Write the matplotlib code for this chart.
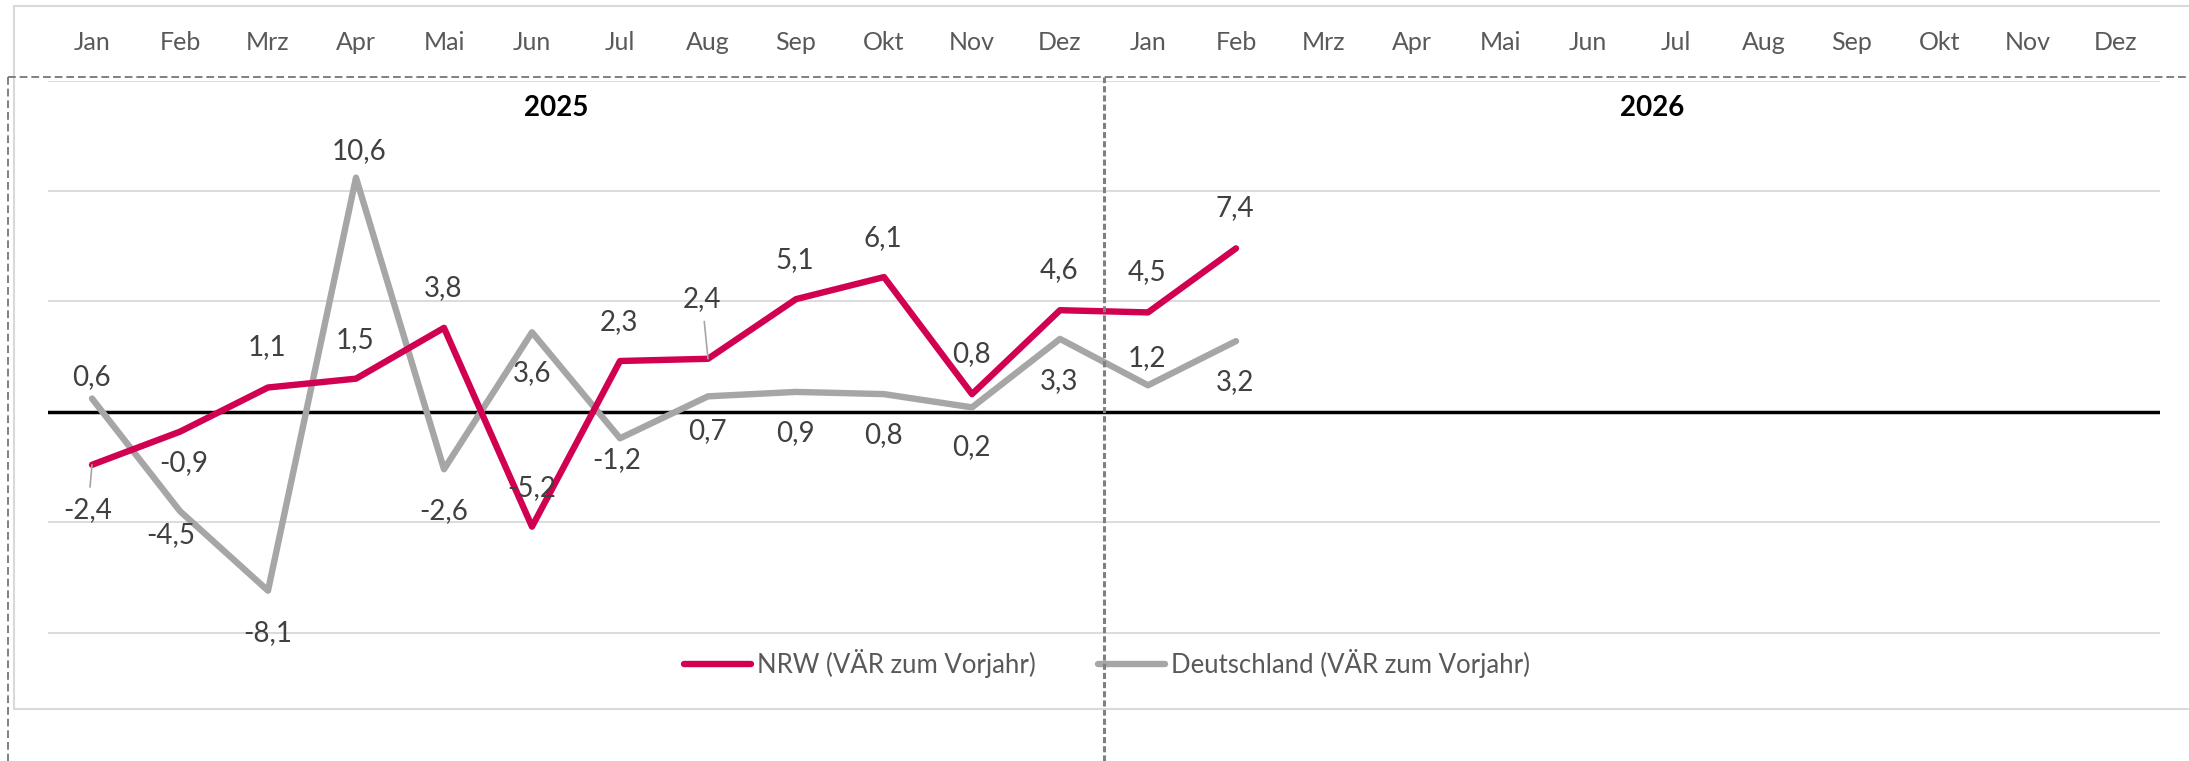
import matplotlib
matplotlib.use("Agg")
import matplotlib.pyplot as plt
from matplotlib.lines import Line2D

plt.rcParams["font.family"] = ["Lato", "DejaVu Sans"]

months = ["Jan", "Feb", "Mrz", "Apr", "Mai", "Jun", "Jul", "Aug", "Sep", "Okt", "Nov", "Dez"] * 2
years = ["2025", "2026"]
nrw = [-2.4, -0.9, 1.1, 1.5, 3.8, -5.2, 2.3, 2.4, 5.1, 6.1, 0.8, 4.6, 4.5, 7.4]
de = [0.6, -4.5, -8.1, 10.6, -2.6, 3.6, -1.2, 0.7, 0.9, 0.8, 0.2, 3.3, 1.2, 3.2]
series_names = ["NRW (VÄR zum Vorjahr)", "Deutschland (VÄR zum Vorjahr)"]

# label offsets in pixels (dx, dy), Excel-like placement
nrw_off = [(-4, -45), (4, -31), (-1, 40), (-1, 39), (-1, 40), (0, 39), (-1, 39),
           (-6, 60), (-1, 39), (-1, 39), (-1, 40), (-1, 40), (-1, 40), (-1, 40)]
de_off = [(-1, 21), (-9, -24), (0, -42), (3, 27), (0, -42), (0, -41), (-3, -22),
          (-1, -35), (-1, -41), (-1, -41), (-1, -40), (-1, -42), (-1, 27), (-1, -41)]
nrw_leader = [0, 7]

RED = "#D20050"
GREY = "#A6A6A6"
W, H = 2189, 761


def fx(px):
    return px / W


def fy(py):
    return 1 - py / H


fig = plt.figure(figsize=(W / 100, H / 100), dpi=100)
top, bot = 80.5, 721
ax = fig.add_axes([fx(48), fy(bot), fx(2160) - fx(48), (bot - top) / H])
ax.set_xlim(-0.5, 23.5)
ax.set_ylim(-14, 15)

for g in [-10, -5, 5, 10, 15]:
    ax.axhline(g, color="#D9D9D9", lw=1.3, zorder=1)
ax.axhline(0, color="black", lw=2.5, zorder=2)

x = list(range(len(nrw)))
l1, = ax.plot(x, nrw, color=RED, lw=4.6, solid_capstyle="round", solid_joinstyle="round", zorder=4)
l2, = ax.plot(x, de, color=GREY, lw=4.6, solid_capstyle="round", solid_joinstyle="round", zorder=3)


def fmt(v):
    return f"{v:.1f}".replace(".", ",")


for i, v in enumerate(nrw):
    arrow = None
    if i in nrw_leader:
        arrow = dict(arrowstyle="-", color=GREY, lw=1.2, shrinkA=5, shrinkB=0)
    ax.annotate(fmt(v), (i, v), xytext=nrw_off[i], textcoords="offset pixels",
                ha="center", va="center", fontsize=20, color="#404040",
                arrowprops=arrow, zorder=6)
for i, v in enumerate(de):
    ax.annotate(fmt(v), (i, v), xytext=de_off[i], textcoords="offset pixels",
                ha="center", va="center", fontsize=20, color="#404040", zorder=6)

ax.set_xticks(range(len(months)))
ax.set_xticklabels(months)
ax.xaxis.tick_top()
ax.tick_params(axis="x", length=0, pad=19, labelsize=18, labelcolor="#595959")
ax.set_yticks([])
for s in ax.spines.values():
    s.set_visible(False)

# year captions
fig.text(fx(556), fy(108), years[0], ha="center", va="center", fontsize=20, fontweight="bold")
fig.text(fx(1652), fy(108), years[1], ha="center", va="center", fontsize=20, fontweight="bold")

ax.legend([l1, l2], series_names, loc="center", bbox_to_anchor=(fx(1107), fy(663)),
          bbox_transform=fig.transFigure, ncol=2, frameon=False, fontsize=18.5,
          labelcolor="#595959", handlelength=2.6, handletextpad=0.25, columnspacing=2.4,
          borderpad=0)

# outer light border
for xs, ys in [([fx(14), 1], [fy(6), fy(6)]), ([fx(14), fx(14)], [fy(6), fy(709)]),
               ([fx(14), 1], [fy(709), fy(709)])]:
    fig.add_artist(Line2D(xs, ys, transform=fig.transFigure, color="#D9D9D9", lw=1.5))

# dashed frame
fig.add_artist(Line2D([fx(8), 1], [fy(77), fy(77)], transform=fig.transFigure,
                      color="#808080", lw=1.4, dashes=(4, 2)))
fig.add_artist(Line2D([fx(8), fx(8)], [fy(77), 0], transform=fig.transFigure,
                      color="#808080", lw=1.4, dashes=(4, 2)))
ax.axvline(11.5, ymin=-(H - bot) / (bot - top), ymax=1 + (top - 77) / (bot - top),
           color="#808080", lw=2.2, dashes=(2, 1), clip_on=False, zorder=10)

fig.savefig("out.png", dpi=100)
